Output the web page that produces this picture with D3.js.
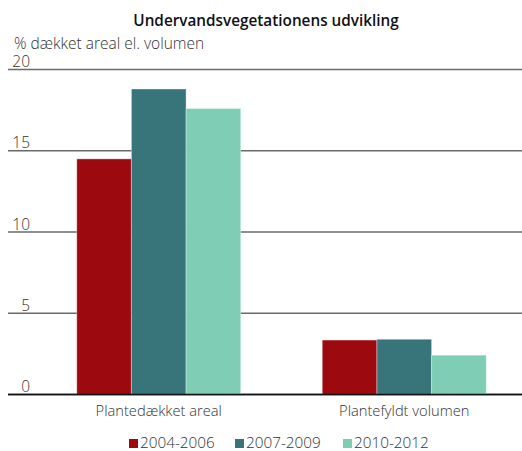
<!DOCTYPE html>
<html>
<head>
<meta charset="utf-8">
<script src="https://cdn.jsdelivr.net/npm/d3@7"></script>
<style>
  body { margin: 0; background: #fff; }
  text { font-family: "Open Sans", Lato, sans-serif; }
</style>
</head>
<body>
<script>
var categories = ["Plantedækket areal", "Plantefyldt volumen"];
var series = ["2004-2006", "2007-2009", "2010-2012"];
var values_2004 = [14.5, 3.35];
var values_2007 = [18.8, 3.4];
var values_2010 = [17.6, 2.42];
var yTicks = [0, 5, 10, 15, 20];
var colors = ["#9c0a10", "#38757b", "#7fcdb5"];

var size = ({ width: 522, height: 451 });

var svg = d3.select("body").append("svg")
            .attr("width", size.width)
            .attr("height", size.height);

var table = categories.map(function (c, i) {
  return { cat: c, vals: [values_2004[i], values_2007[i], values_2010[i]] };
});

var x = d3.scaleBand()
          .domain(categories)
          .range([36, 527])
          .paddingInner(0.332)
          .paddingOuter(0.166);
var xs = d3.scaleBand()
           .domain(series)
           .range([0, x.bandwidth()]);
var y = d3.scaleLinear()
          .domain([0, 20])
          .range([394.5, 69.5]);

// gridlines + tick labels
svg.selectAll(".grid")
   .data(yTicks)
   .enter()
   .append("line")
   .attr("x1", 8).attr("x2", 522)
   .attr("y1", function (d) { return y(d); })
   .attr("y2", function (d) { return y(d); })
   .attr("stroke", function (d) { return d === 0 ? "#111" : "#6a6a6a"; })
   .attr("stroke-width", 1.6);

svg.selectAll(".tick")
   .data(yTicks)
   .enter()
   .append("text")
   .attr("x", 30)
   .attr("y", function (d) { return y(d) - 2.5; })
   .attr("text-anchor", "end")
   .attr("font-size", 15.5)
   .attr("font-weight", 300)
   .attr("fill", "#333")
   .text(function (d) { return d; });

// bars
var groups = svg.selectAll(".grp")
   .data(table)
   .enter()
   .append("g")
   .attr("transform", function (d) { return "translate(" + x(d.cat) + ",0)"; });

groups.selectAll("rect")
   .data(function (d) { return d.vals.map(function (v, i) { return { s: series[i], v: v, i: i }; }); })
   .enter()
   .append("rect")
   .attr("x", function (d) { return xs(d.s); })
   .attr("width", xs.bandwidth())
   .attr("y", function (d) { return y(d.v); })
   .attr("height", function (d) { return y(0) - y(d.v); })
   .attr("fill", function (d) { return colors[d.i]; })
   .attr("stroke", "rgba(255,255,255,0.35)")
   .attr("stroke-width", 1);

// redraw baseline on top
svg.append("line")
   .attr("x1", 8).attr("x2", 522)
   .attr("y1", y(0)).attr("y2", y(0))
   .attr("stroke", "#111").attr("stroke-width", 1.6);

// category labels
svg.selectAll(".cat")
   .data(categories)
   .enter()
   .append("text")
   .attr("x", function (d) { return x(d) + x.bandwidth() / 2; })
   .attr("y", 416)
   .attr("text-anchor", "middle")
   .attr("font-size", 14.7)
   .attr("font-weight", 300)
   .attr("fill", "#333")
   .text(function (d) { return d; });

// title + axis label
svg.append("text")
   .attr("x", 266).attr("y", 26)
   .attr("text-anchor", "middle")
   .attr("font-size", 15.3)
   .attr("font-weight", 600)
   .attr("fill", "#111")
   .text("Undervandsvegetationens udvikling");

svg.append("text")
   .attr("x", 14).attr("y", 49)
   .attr("font-size", 15.5)
   .attr("font-weight", 300)
   .attr("fill", "#333")
   .text("% dækket areal el. volumen");

// legend
var legendX = [129, 235, 343];
var leg = svg.selectAll(".leg")
   .data(series)
   .enter()
   .append("g")
   .attr("transform", function (d, i) { return "translate(" + legendX[i] + ",439)"; });
leg.append("rect")
   .attr("width", 9).attr("height", 9)
   .attr("fill", function (d, i) { return colors[i]; });
leg.append("text")
   .attr("x", 11).attr("y", 9)
   .attr("font-size", 15.3)
   .attr("font-weight", 300)
   .attr("fill", "#333")
   .text(function (d) { return d; });
</script>
</body>
</html>
